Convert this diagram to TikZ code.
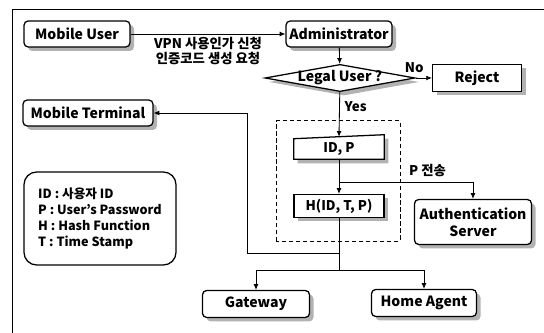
\documentclass[tikz,border=0pt]{standalone}
\usepackage{fontspec}
\setmainfont{Noto Sans CJK KR}
\usetikzlibrary{arrows.meta, positioning, shapes.geometric, shadows, calc, backgrounds}

\begin{document}
\begin{tikzpicture}[
    shade box/.style={drop shadow={shadow xshift=0.1cm, shadow yshift=-0.1cm,
      fill=black!30, opacity=1}},
    rbox/.style={draw, line width=0.9pt, rounded corners=3pt, fill=white,
      minimum height=0.65cm, inner sep=1pt, font=\fontsize{10}{12}\selectfont\bfseries,
      shade box},
    sbox/.style={rbox, rounded corners=0pt},
    conn/.style={-{Latex[length=4pt, width=3.5pt]}, line width=0.6pt},
    lbl/.style={font=\fontsize{9.5}{11}\selectfont\bfseries},
  ]
    \useasboundingbox (0, 0) rectangle (13.6, 8.325);

    % Rahmen
    \draw[line width=0.6pt] (0.3, 0) -- (0.3, 8.1) -- (13.6, 8.1);

    % Anfrage
    \node[rbox, minimum width=2.65cm] (muser) at (1.925, 7.475) {Mobile User};
    \node[rbox, minimum width=2.65cm] (admin) at (8.475, 7.475) {Administrator};
    \draw[conn] (muser) -- node[below, lbl, align=center, inner sep=2pt]
      {VPN 사용인가 신청\\인증코드 생성 요청} (admin);

    % Pruefung
    \node[draw, line width=0.9pt, diamond, inner sep=0pt, fill=white,
      minimum width=3.75cm, minimum height=0.68cm, shade box,
      label={[font=\fontsize{10}{12}\selectfont\bfseries]center:Legal User ?}]
      (legal) at (8.5, 6.375) {};
    \node[sbox, minimum width=2.225cm, minimum height=0.675cm] (reject) at (11.925, 6.375) {Reject};
    \draw[conn] (admin) -- (legal);
    \draw[conn] (legal) -- node[above, lbl, pos=0, xshift=-1pt] {No} (reject);

    % ID, P und Hash
    \draw[dashed, dash pattern=on 3pt off 2pt, line width=0.7pt] (6.9, 2.3) rectangle (10.0, 5.3);
    \node[minimum width=2.25cm, minimum height=0.5cm, inner sep=1pt,
      font=\fontsize{9.5}{11}\selectfont\bfseries] (idp) at (8.475, 4.6) {ID, P};
    \begin{scope}[on background layer]
      \fill[black!30] ($(idp.south west)+(0.1,-0.1)$) -- ($(idp.south east)+(0.1,-0.1)$)
        -- ($(idp.north east)+(0.1,0)$) -- ($(idp.north west)+(0.1,-0.1)$) -- cycle;
      \draw[line width=0.9pt, fill=white] (idp.south west) -- (idp.south east)
        -- ($(idp.north east)+(0,0.1)$) -- (idp.north west) -- cycle;
    \end{scope}
    \node[sbox, minimum width=2.25cm, minimum height=0.575cm,
      font=\fontsize{9.5}{11}\selectfont\bfseries] (hash) at (8.475, 3.175) {H(ID, T, P)};
    \draw[conn] (legal) -- node[right, lbl, pos=0.32] {Yes} ($(idp.north)+(0,0.05)$);
    \draw[conn] (idp) -- (hash);

    % Authentication Server
    \node[rbox, minimum width=2.925cm, minimum height=1.125cm, align=center,
      font=\fontsize{10}{12}\selectfont\bfseries] (auth) at (11.825, 2.775) {Authentication\\Server};
    \coordinate (tap) at (8.475, 3.775);
    \draw[conn] (tap) -| node[above, lbl, pos=0.33] {P 전송} (auth.north);

    % Mobile Terminal
    \node[rbox, minimum width=3.25cm] (mterm) at (2.2, 5.5) {Mobile Terminal};
    \coordinate (mtjoin) at (8.475, 2.0);
    \coordinate (mtturn) at (6.175, 2.0);
    \draw[conn] (mtjoin) -- (mtturn) |- (mterm.east);

    % Verteilung
    \node[rbox, minimum width=2.675cm, minimum height=0.675cm] (gateway) at (6.4, 0.725) {Gateway};
    \node[rbox, minimum width=2.625cm, minimum height=0.675cm] (home) at (10.6, 0.75) {Home Agent};
    \coordinate (split) at (8.475, 1.575);
    \draw[line width=0.6pt] (hash) -- (split);
    \draw[conn] (split) -| (gateway.north);
    \draw[conn] (split) -| (home.north);

    % Legende
    \node[draw, line width=0.9pt, rounded corners=9pt, minimum width=3.8cm,
      minimum height=2.325cm, align=left, font=\fontsize{9}{11.6}\selectfont\bfseries]
      (legend) at (2.5, 2.8625)
      {ID : 사용자 ID\\P : User's Password\\H : Hash Function\\T : Time Stamp};
  \end{tikzpicture}
\end{document}
